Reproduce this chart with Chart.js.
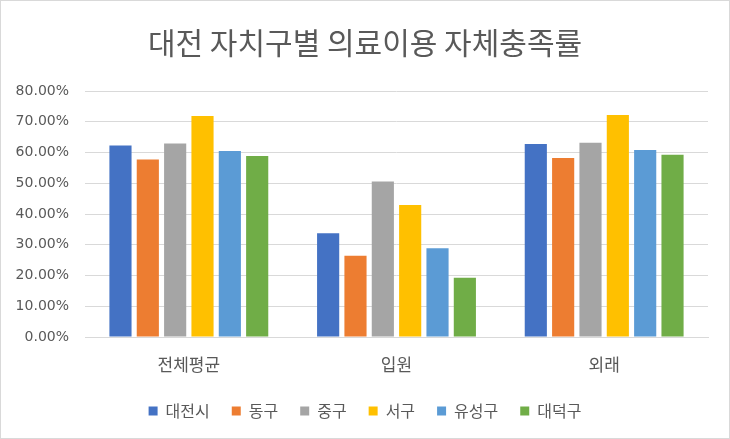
<!DOCTYPE html>
<html>
<head>
<meta charset="utf-8">
<script src="https://cdn.jsdelivr.net/npm/chart.js@4"></script>
<style>
  html, body { margin: 0; padding: 0; background: #fff; }
  #wrap { position: relative; width: 728px; height: 437px; border: 1px solid #d9d9d9; }
</style>
</head>
<body>
<div id="wrap"><canvas id="chart" width="728" height="437"></canvas></div>
<script>
// ── Data ─────────────────────────────────────────────────────
const categories = ['전체평균', '입원', '외래'];
const seriesNames = ['대전시', '동구', '중구', '서구', '유성구', '대덕구'];
const daejeon  = [62.3, 33.7, 62.8];
const donggu   = [57.7, 26.4, 58.2];
const junggu   = [62.9, 50.6, 63.2];
const seogu    = [71.9, 42.9, 72.2];
const yuseong  = [60.5, 28.9, 60.8];
const daedeok  = [58.9, 19.3, 59.3];
const colours  = ['#4472c4', '#ed7d31', '#a5a5a5', '#ffc000', '#5b9bd5', '#70ad47'];

const FONT = '"Noto Sans CJK KR", "Noto Sans", sans-serif';
const NUM_FONT = '"DejaVu Sans", sans-serif';
const TEXT = '#595959';

const values = [daejeon, donggu, junggu, seogu, yuseong, daedeok];

new Chart(document.getElementById('chart'), {
  type: 'bar',
  data: {
    labels: categories,
    datasets: seriesNames.map((name, i) => ({
      label: name,
      data: values[i],
      backgroundColor: colours[i],
      categoryPercentage: 0.79,
      barPercentage: 0.81,
    })),
  },
  options: {
    responsive: false,
    animation: false,
    layout: { padding: { left: 0, right: 0, top: 0, bottom: 9 } },
    plugins: {
      title: {
        display: true,
        text: '대전 자치구별 의료이용 자체충족률',
        color: TEXT,
        font: { family: FONT, size: 30, weight: 'normal' },
        padding: { top: 24, bottom: 30 },
      },
      legend: {
        position: 'bottom',
        labels: {
          color: TEXT,
          font: { family: FONT, size: 16, lineHeight: 1 },
          boxWidth: 9, boxHeight: 9,
          padding: 22,
        },
      },
      tooltip: { enabled: false },
    },
    scales: {
      x: {
        afterFit: s => { s.height = 44; },
        grid: { display: false, drawTicks: false },
        border: { color: '#d9d9d9' },
        ticks: { color: TEXT, font: { family: FONT, size: 17, lineHeight: 1 }, padding: 19 },
      },
      y: {
        min: 0, max: 80,
        afterFit: s => { s.width = 84; },
        grid: { color: '#d9d9d9', drawTicks: false },
        border: { display: false },
        ticks: {
          stepSize: 10,
          color: TEXT,
          padding: 16,
          font: { family: NUM_FONT, size: 14 },
          callback: v => v.toFixed(2) + '%',
        },
      },
      // empty right-hand axis: keeps the right margin without shifting the title
      yRight: {
        position: 'right',
        afterFit: s => { s.width = 21; },
        grid: { drawOnChartArea: false, drawTicks: false },
        border: { display: false },
        ticks: { display: false },
      },
    },
  },
});
</script>
</body>
</html>
